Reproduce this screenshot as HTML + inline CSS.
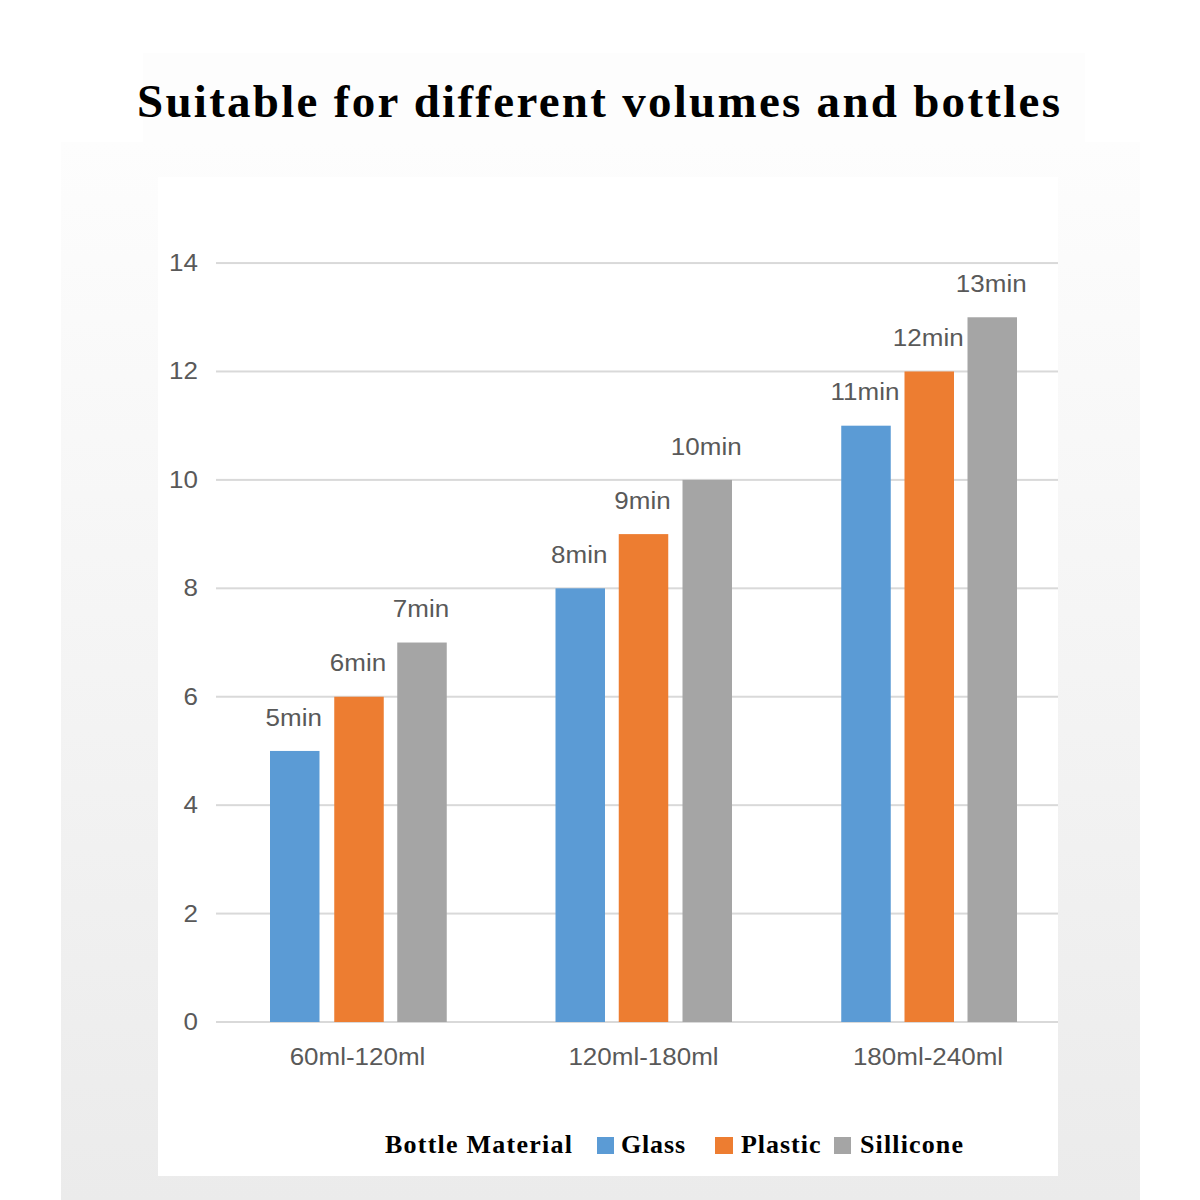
<!DOCTYPE html>
<html><head><meta charset="utf-8"><style>
html,body{margin:0;padding:0;background:#fff;width:1200px;height:1200px;overflow:hidden}
svg{display:block}
.ax{font-family:"Liberation Sans",sans-serif;font-size:23px;fill:#595959}
.t{font-family:"Liberation Serif",serif;font-weight:bold;fill:#000}
</style></head><body>
<svg width="1200" height="1200" viewBox="0 0 1200 1200">
<defs><linearGradient id="bg" x1="0" y1="0" x2="0" y2="1">
<stop offset="0" stop-color="#fdfdfd"/><stop offset="0.5" stop-color="#f4f4f4"/><stop offset="1" stop-color="#ebebeb"/></linearGradient></defs>
<rect x="143" y="53" width="942" height="124" fill="#fdfdfd"/>
<rect x="61" y="142" width="1079" height="1058" fill="url(#bg)"/>
<rect x="158" y="177" width="900" height="999" fill="#ffffff"/>
<text x="137" y="117.3" class="t" font-size="47" textLength="923" lengthAdjust="spacing">Suitable for different volumes and bottles</text>
<rect x="216" y="1021.00" width="842" height="2" fill="#D9D9D9"/>
<text transform="translate(198.00,1030.00) scale(1.13,1)" text-anchor="end" class="ax">0</text>
<rect x="216" y="912.58" width="842" height="2" fill="#D9D9D9"/>
<text transform="translate(198.00,921.58) scale(1.13,1)" text-anchor="end" class="ax">2</text>
<rect x="216" y="804.16" width="842" height="2" fill="#D9D9D9"/>
<text transform="translate(198.00,813.16) scale(1.13,1)" text-anchor="end" class="ax">4</text>
<rect x="216" y="695.74" width="842" height="2" fill="#D9D9D9"/>
<text transform="translate(198.00,704.74) scale(1.13,1)" text-anchor="end" class="ax">6</text>
<rect x="216" y="587.32" width="842" height="2" fill="#D9D9D9"/>
<text transform="translate(198.00,596.32) scale(1.13,1)" text-anchor="end" class="ax">8</text>
<rect x="216" y="478.90" width="842" height="2" fill="#D9D9D9"/>
<text transform="translate(198.00,487.90) scale(1.13,1)" text-anchor="end" class="ax">10</text>
<rect x="216" y="370.48" width="842" height="2" fill="#D9D9D9"/>
<text transform="translate(198.00,379.48) scale(1.13,1)" text-anchor="end" class="ax">12</text>
<rect x="216" y="262.06" width="842" height="2" fill="#D9D9D9"/>
<text transform="translate(198.00,271.06) scale(1.13,1)" text-anchor="end" class="ax">14</text>
<rect x="270" y="750.95" width="49.5" height="271.05" fill="#5B9BD5"/>
<text transform="translate(293.75,725.65) scale(1.13,1)" text-anchor="middle" class="ax">5min</text>
<rect x="334.25" y="696.74" width="49.5" height="325.26" fill="#ED7D31"/>
<text transform="translate(358.00,671.44) scale(1.13,1)" text-anchor="middle" class="ax">6min</text>
<rect x="397.25" y="642.53" width="49.5" height="379.47" fill="#A5A5A5"/>
<text transform="translate(421.00,617.23) scale(1.13,1)" text-anchor="middle" class="ax">7min</text>
<rect x="555.5" y="588.32" width="49.5" height="433.68" fill="#5B9BD5"/>
<text transform="translate(579.25,563.02) scale(1.13,1)" text-anchor="middle" class="ax">8min</text>
<rect x="618.75" y="534.11" width="49.5" height="487.89" fill="#ED7D31"/>
<text transform="translate(642.50,508.81) scale(1.13,1)" text-anchor="middle" class="ax">9min</text>
<rect x="682.5" y="479.90" width="49.5" height="542.10" fill="#A5A5A5"/>
<text transform="translate(706.25,454.60) scale(1.13,1)" text-anchor="middle" class="ax">10min</text>
<rect x="841.25" y="425.69" width="49.5" height="596.31" fill="#5B9BD5"/>
<text transform="translate(865.00,400.39) scale(1.13,1)" text-anchor="middle" class="ax">11min</text>
<rect x="904.5" y="371.48" width="49.5" height="650.52" fill="#ED7D31"/>
<text transform="translate(928.25,346.18) scale(1.13,1)" text-anchor="middle" class="ax">12min</text>
<rect x="967.5" y="317.27" width="49.5" height="704.73" fill="#A5A5A5"/>
<text transform="translate(991.25,291.97) scale(1.13,1)" text-anchor="middle" class="ax">13min</text>
<text transform="translate(357.50,1065.00) scale(1.13,1)" text-anchor="middle" class="ax">60ml-120ml</text>
<text transform="translate(643.50,1065.00) scale(1.13,1)" text-anchor="middle" class="ax">120ml-180ml</text>
<text transform="translate(928.00,1065.00) scale(1.13,1)" text-anchor="middle" class="ax">180ml-240ml</text>
<text x="385" y="1152.5" class="t" font-size="26" textLength="187" lengthAdjust="spacing">Bottle Material</text>
<rect x="597" y="1137" width="17" height="17" fill="#5B9BD5"/>
<text x="621" y="1152.5" class="t" font-size="26" textLength="64" lengthAdjust="spacing">Glass</text>
<rect x="715" y="1137" width="18" height="17" fill="#ED7D31"/>
<text x="741" y="1152.5" class="t" font-size="26" textLength="79.5" lengthAdjust="spacing">Plastic</text>
<rect x="834" y="1137" width="17" height="17" fill="#A5A5A5"/>
<text x="860" y="1152.5" class="t" font-size="26" textLength="103" lengthAdjust="spacing">Sillicone</text>
</svg>
</body></html>
